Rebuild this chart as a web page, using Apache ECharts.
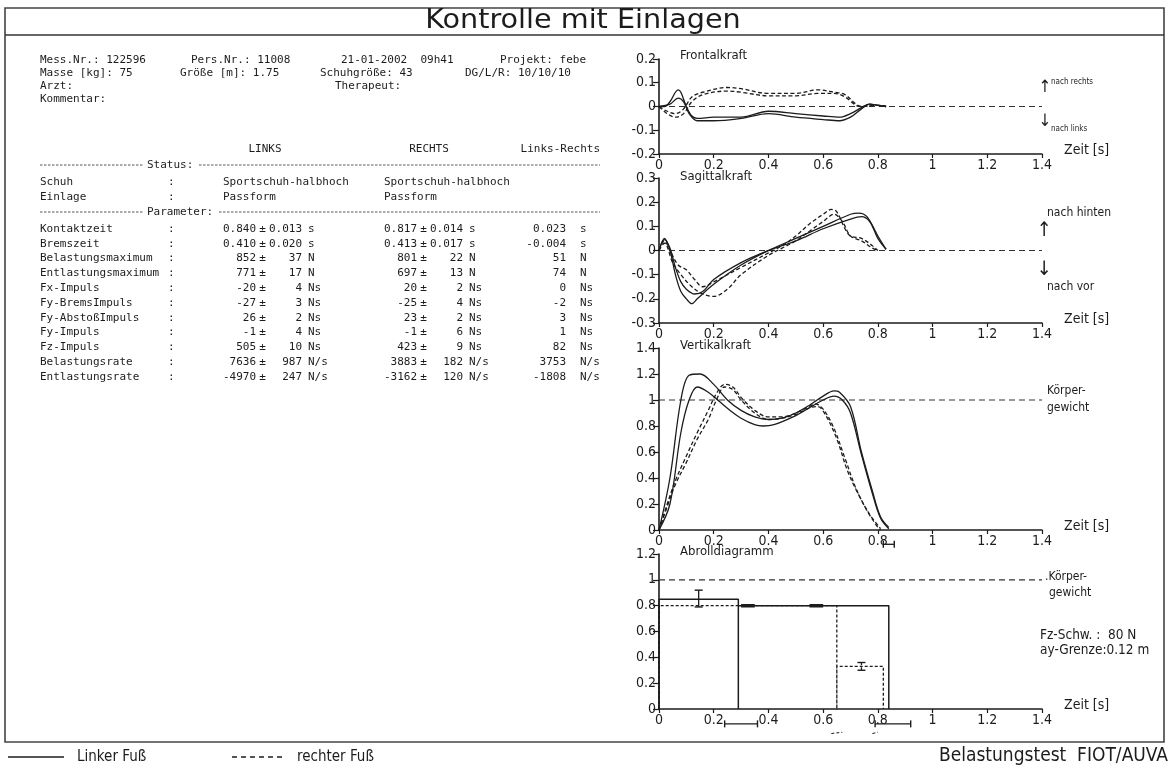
<!DOCTYPE html>
<html><head><meta charset="utf-8">
<script src="https://cdn.jsdelivr.net/npm/echarts/dist/echarts.min.js"></script>
<style>html,body{margin:0;padding:0;background:#fff}#c{width:1174px;height:769px}</style>
</head><body><div id="c"></div><script>
// ---------- DATA ----------
const title = 'Kontrolle mit Einlagen';
const headerRows = [
  ['Mess.Nr.: 122596', 'Pers.Nr.: 11008', '21-01-2002  09h41', 'Projekt: febe'],
  ['Masse [kg]: 75', 'Größe [m]: 1.75', 'Schuhgröße: 43', 'DG/L/R: 10/10/10'],
  ['Arzt:', '', 'Therapeut:', ''],
  ['Kommentar:', '', '', '']
];
const colHeads = ['LINKS', 'RECHTS', 'Links-Rechts'];
const statusLabels = ['Schuh', 'Einlage'];
const statusLinks = ['Sportschuh-halbhoch', 'Passform'];
const statusRechts = ['Sportschuh-halbhoch', 'Passform'];
const paramLabels = ['Kontaktzeit','Bremszeit','Belastungsmaximum','Entlastungsmaximum','Fx-Impuls','Fy-BremsImpuls','Fy-AbstoßImpuls','Fy-Impuls','Fz-Impuls','Belastungsrate','Entlastungsrate'];
const linksMean  = ['0.840','0.410','852','771','-20','-27','26','-1','505','7636','-4970'];
const linksSd    = ['0.013','0.020','37','17','4','3','2','4','10','987','247'];
const rechtsMean = ['0.817','0.413','801','697','20','-25','23','-1','423','3883','-3162'];
const rechtsSd   = ['0.014','0.017','22','13','2','4','2','6','9','182','120'];
const diffVals   = ['0.023','-0.004','51','74','0','-2','3','1','82','3753','-1808'];
const units      = ['s','s','N','N','Ns','Ns','Ns','Ns','Ns','N/s','N/s'];

const chartTitles = ['Frontalkraft', 'Sagittalkraft', 'Vertikalkraft', 'Abrolldiagramm'];
const xAxisName = 'Zeit [s]';

// Frontalkraft (t [s], F/BW)
const frontLinksA = [[0,0],[0.02,0],[0.04,0.02],[0.06,0.06],[0.07,0.07],[0.08,0.06],[0.1,0.0],[0.12,-0.04],[0.14,-0.05],[0.2,-0.045],[0.3,-0.045],[0.4,-0.02],[0.5,-0.03],[0.6,-0.04],[0.66,-0.045],[0.7,-0.03],[0.74,-0.005],[0.77,0.01],[0.8,0.005],[0.83,0]];
const frontLinksB = [[0,0],[0.04,0.01],[0.07,0.035],[0.09,0.02],[0.11,-0.03],[0.14,-0.06],[0.2,-0.06],[0.3,-0.05],[0.4,-0.03],[0.5,-0.045],[0.6,-0.055],[0.66,-0.06],[0.7,-0.045],[0.74,-0.01],[0.77,0.01],[0.8,0.005],[0.83,0]];
const frontRechtsA = [[0,0],[0.03,-0.02],[0.06,-0.03],[0.09,-0.01],[0.12,0.04],[0.16,0.06],[0.25,0.08],[0.3,0.075],[0.4,0.055],[0.5,0.055],[0.58,0.07],[0.64,0.06],[0.68,0.05],[0.72,0.01],[0.74,0],[0.8,0.005],[0.83,0]];
const frontRechtsB = [[0,0],[0.03,-0.03],[0.06,-0.045],[0.09,-0.03],[0.12,0.02],[0.16,0.05],[0.25,0.065],[0.3,0.06],[0.4,0.045],[0.5,0.045],[0.58,0.055],[0.64,0.055],[0.68,0.04],[0.72,0.005],[0.74,0],[0.8,0.005],[0.83,0]];
// Sagittalkraft
const sagLinksA = [[0,0],[0.02,0.05],[0.04,0.0],[0.06,-0.1],[0.08,-0.17],[0.1,-0.2],[0.12,-0.22],[0.14,-0.2],[0.2,-0.14],[0.3,-0.06],[0.4,0.0],[0.5,0.05],[0.6,0.1],[0.7,0.15],[0.73,0.155],[0.76,0.14],[0.8,0.06],[0.83,0.005]];
const sagLinksB = [[0,0],[0.02,0.045],[0.04,0.01],[0.06,-0.07],[0.08,-0.13],[0.1,-0.16],[0.13,-0.18],[0.16,-0.17],[0.2,-0.12],[0.3,-0.05],[0.4,0.0],[0.5,0.04],[0.6,0.09],[0.7,0.13],[0.74,0.14],[0.77,0.12],[0.8,0.05],[0.83,0.005]];
const sagRechtsA = [[0,0],[0.02,0.04],[0.04,0.0],[0.07,-0.06],[0.1,-0.08],[0.13,-0.12],[0.16,-0.15],[0.2,-0.13],[0.3,-0.07],[0.4,-0.01],[0.45,0.02],[0.5,0.06],[0.55,0.11],[0.6,0.15],[0.63,0.17],[0.65,0.16],[0.68,0.09],[0.7,0.06],[0.74,0.05],[0.78,0.02],[0.8,0]];
const sagRechtsB = [[0,0],[0.02,0.03],[0.05,-0.05],[0.08,-0.1],[0.12,-0.15],[0.16,-0.18],[0.2,-0.19],[0.25,-0.16],[0.3,-0.1],[0.4,-0.02],[0.45,0.01],[0.5,0.04],[0.55,0.08],[0.6,0.12],[0.64,0.15],[0.67,0.12],[0.7,0.06],[0.74,0.04],[0.78,0.01],[0.8,0]];
// Vertikalkraft
const vertLinksA = [[0,0],[0.04,0.4],[0.08,1.0],[0.11,1.19],[0.15,1.2],[0.2,1.12],[0.25,1.0],[0.3,0.92],[0.35,0.87],[0.4,0.85],[0.45,0.86],[0.5,0.9],[0.55,0.96],[0.6,1.03],[0.64,1.07],[0.66,1.06],[0.7,0.95],[0.74,0.6],[0.78,0.3],[0.81,0.1],[0.84,0.02]];
const vertLinksB = [[0,0],[0.04,0.2],[0.08,0.75],[0.11,1.0],[0.14,1.1],[0.18,1.06],[0.22,0.99],[0.26,0.92],[0.3,0.86],[0.35,0.81],[0.38,0.8],[0.42,0.81],[0.5,0.88],[0.55,0.94],[0.6,1.0],[0.64,1.03],[0.67,1.0],[0.7,0.9],[0.74,0.58],[0.78,0.28],[0.81,0.09],[0.84,0.01]];
const vertRechtsA = [[0,0],[0.03,0.2],[0.06,0.38],[0.1,0.57],[0.14,0.75],[0.18,0.92],[0.21,1.05],[0.24,1.12],[0.27,1.1],[0.3,1.02],[0.35,0.92],[0.4,0.87],[0.45,0.87],[0.5,0.9],[0.55,0.95],[0.57,0.97],[0.6,0.93],[0.64,0.78],[0.68,0.55],[0.72,0.32],[0.76,0.15],[0.8,0.02],[0.81,0]];
const vertRechtsB = [[0,0],[0.03,0.18],[0.06,0.35],[0.1,0.52],[0.14,0.7],[0.18,0.85],[0.21,1.0],[0.24,1.1],[0.27,1.08],[0.3,1.0],[0.35,0.9],[0.4,0.85],[0.45,0.86],[0.5,0.89],[0.55,0.94],[0.58,0.95],[0.61,0.88],[0.65,0.7],[0.69,0.45],[0.73,0.27],[0.77,0.12],[0.81,0.01]];
const vertErrX = [[0.82,-0.11],[0.86,-0.11]];
// Abrolldiagramm steps: [start, end, level]
const rollLinks  = [[0,0.29,0.85],[0.29,0.84,0.8]];
const rollRechts = [[0,0.65,0.8],[0.65,0.82,0.33]];
const rollLinksErrY  = [[0.145,0.79],[0.145,0.92]];
const rollRechtsErrY = [[0.74,0.3],[0.74,0.36]];
const rollLinksErrX1 = [[0.24,-0.115],[0.36,-0.115]];
const rollLinksErrX2 = [[0.79,-0.115],[0.92,-0.115]];
const rollRechtsErrX1 = [[0.63,-0.19],[0.67,-0.18]];
const rollRechtsErrX2 = [[0.78,-0.19],[0.8,-0.18]];
const rollBold = [[[0.3,0.8],[0.35,0.8]],[[0.55,0.8],[0.6,0.8]]];
const refLevels = [0, 0, 1, 1];
const fzSchw = 'Fz-Schw. :  80 N';
const ayGrenze = 'ay-Grenze:0.12 m';
const legendLinks = 'Linker Fuß';
const legendRechts = 'rechter Fuß';
const footer = 'Belastungstest  FIOT/AUVA';

// ---------- LAYOUT ----------
const FF = "'DejaVu Sans Condensed','Liberation Sans Narrow','Liberation Sans',sans-serif";
const FM = "'DejaVu Sans Mono','Liberation Mono',monospace";
const INK = '#1c1c1c';
const GL = 659, GW = 383;
const grids = [{top:59,h:95},{top:178,h:145},{top:348,h:182},{top:554,h:155}];
const yRanges = [{min:-0.2,max:0.2,interval:0.1},{min:-0.3,max:0.3,interval:0.1},{min:0,max:1.4,interval:0.2},{min:0,max:1.2,interval:0.2}];

const g = [];
function txt(x, y, t, size, align, fam, extra) {
  g.push(Object.assign({type:'text', x, y, silent:true, style:{text:t, fill:INK, font:(size||12)+'px '+(fam||FF), textAlign:align||'left', textVerticalAlign:'middle'}}, extra||{}));
}
function mt(x, y, t, align) { txt(x, y, t, 11, align, FM); }
function ln(x1,y1,x2,y2,w,dash,color) {
  g.push({type:'line', silent:true, shape:{x1,y1,x2,y2}, style:{stroke:color||'#333', lineWidth:w||1.5, lineDash:dash||null}});
}
// frame
g.push({type:'rect', silent:true, shape:{x:5,y:8,width:1159,height:734}, style:{fill:'none', stroke:'#444', lineWidth:1.6}});
ln(5,35,1164,35,1.6);
txt(0, 0, title, 27, 'center', FF, {x:583, y:21, scaleX:1.18});
// header
const hxs = [[40, 191, 341, 500], [40, 180, 320, 465], [40, 0, 335, 0], [40, 0, 0, 0]];
headerRows.forEach((row, r) => {
  row.forEach((t, c) => { if (t) mt(hxs[r][c], 60 + r*13, t); });
});
// table
mt(265, 149, colHeads[0], 'center');
mt(429, 149, colHeads[1], 'center');
mt(600, 149, colHeads[2], 'right');
function dashLine(y, word, wEnd) {
  ln(40, y, 143, y, 1, [2.5,1.5], '#555');
  mt(147, y, word);
  ln(wEnd, y, 600, y, 1, [2.5,1.5], '#555');
}
dashLine(165, 'Status:', 199);
statusLabels.forEach((l, i) => {
  const y = 182 + i*15;
  mt(40, y, l); mt(168, y, ':');
  mt(223, y, statusLinks[i]); mt(384, y, statusRechts[i]);
});
dashLine(212, 'Parameter:', 219);
paramLabels.forEach((l, i) => {
  const y = 229 + i*14.8;
  mt(40, y, l); mt(168, y, ':');
  mt(256, y, linksMean[i], 'right'); mt(262.5, y, '±', 'center');
  mt(302, y, linksSd[i], 'right'); mt(308, y, units[i]);
  mt(417, y, rechtsMean[i], 'right'); mt(423.5, y, '±', 'center');
  mt(463, y, rechtsSd[i], 'right'); mt(469, y, units[i]);
  mt(566, y, diffVals[i], 'right'); mt(580, y, units[i]);
});
// chart titles & labels
const titleY = [56, 177, 346, 552];
chartTitles.forEach((t, i) => txt(680, titleY[i], t, 13));
grids.forEach(gr => txt(1064, gr.top + gr.h - 4, xAxisName, 14));
txt(1051, 82, 'nach rechts', 8);
txt(1051, 129, 'nach links', 8);
txt(1045, 88, '↑', 17, 'center');
txt(1045, 122, '↓', 17, 'center');
txt(1047, 213, 'nach hinten', 12);
txt(1047, 287, 'nach vor', 12);
txt(1044, 231, '↑', 20, 'center');
txt(1044, 270, '↓', 20, 'center');
txt(1047, 391, 'Körper-', 12); txt(1047, 408, 'gewicht', 12);
txt(1045, 577, '.Körper-', 12); txt(1049, 593, 'gewicht', 12);
txt(1040, 635, fzSchw, 13.5); txt(1040, 650, ayGrenze, 13.5);
// footer
ln(8,757,64,757,1.3,null,INK);
txt(77, 757, legendLinks, 15);
ln(232,757,285,757,1.3,[5,4],INK);
txt(297, 757, legendRechts, 15);
txt(1168, 756, footer, 19, 'right');

// ---------- SERIES ----------
const series = [];
function curve(gi, data, dashed, extra) {
  series.push(Object.assign({type:'line', xAxisIndex:gi, yAxisIndex:gi, data, smooth:0.35, symbol:'none', showSymbol:false,
    silent:true, animation:false, lineStyle:{color:INK, width:1.3, type: dashed ? [4,2.5] : 'solid'}, z:3}, extra||{}));
}
function steps(arr) {
  const pts = [];
  arr.forEach(([s, e, lv]) => { pts.push([s,0],[s,lv],[e,lv],[e,0]); });
  return pts;
}
function errBar(gi, data, vertical, dashed, noCaps) {
  series.push({type:'line', xAxisIndex:gi, yAxisIndex:gi, data, clip:false, silent:true, animation:false,
    symbol: noCaps ? 'none' : 'rect', symbolSize: vertical ? [8,1.4] : [1.4,7], showSymbol:!noCaps, itemStyle:{color:INK},
    lineStyle:{color:INK, width: noCaps ? 1 : 1.3, type: dashed ? [3,2] : 'solid'}, z:4});
}
// reference lines
refLevels.forEach((lv, i) => curve(i, [[0,lv],[1.4,lv]], false, {smooth:false, lineStyle:{color:'#333', width:1.2, type:[6,4]}, z:2}));
curve(0, frontLinksA); curve(0, frontLinksB); curve(0, frontRechtsA, true); curve(0, frontRechtsB, true);
curve(1, sagLinksA); curve(1, sagLinksB); curve(1, sagRechtsA, true); curve(1, sagRechtsB, true);
curve(2, vertLinksA); curve(2, vertLinksB); curve(2, vertRechtsA, true); curve(2, vertRechtsB, true);
errBar(2, vertErrX, false);
curve(3, steps(rollLinks), false, {smooth:false, lineStyle:{color:INK, width:1.5}});
curve(3, steps(rollRechts), true, {smooth:false, lineStyle:{color:INK, width:1.3, type:[3,2]}});
rollBold.forEach(seg => curve(3, seg, false, {smooth:false, lineStyle:{color:INK, width:3.5}}));
errBar(3, rollLinksErrY, true); errBar(3, rollRechtsErrY, true, true);
errBar(3, rollLinksErrX1, false); errBar(3, rollLinksErrX2, false);
errBar(3, rollRechtsErrX1, false, true, true); errBar(3, rollRechtsErrX2, false, true, true);

// ---------- AXES ----------
const fmt = v => String(+(+v).toFixed(2));
const option = {
  animation:false,
  backgroundColor:'#fff',
  grid: grids.map(gr => ({left:GL, width:GW, top:gr.top, height:gr.h, containLabel:false})),
  xAxis: grids.map((gr, i) => ({gridIndex:i, type:'value', min:0, max:1.4, interval:0.2,
    axisLine:{onZero:false, lineStyle:{color:INK, width:1.6}},
    axisTick:{show:true, length:4, lineStyle:{color:INK, width:1.2}},
    axisLabel:{color:INK, fontSize:14, fontFamily:FF, margin:4, formatter:fmt},
    splitLine:{show:false}})),
  yAxis: yRanges.map((r, i) => ({gridIndex:i, type:'value', min:r.min, max:r.max, interval:r.interval,
    axisLine:{show:true, onZero:false, lineStyle:{color:INK, width:1.6}},
    axisTick:{show:true, length:6, lineStyle:{color:INK, width:1.2}},
    axisLabel:{color:INK, fontSize:14, fontFamily:FF, margin:3, formatter:fmt},
    splitLine:{show:false}})),
  series,
  graphic: g
};
const chart = echarts.init(document.getElementById('c'), null, {renderer:'canvas'});
chart.setOption(option);
</script></body></html>
